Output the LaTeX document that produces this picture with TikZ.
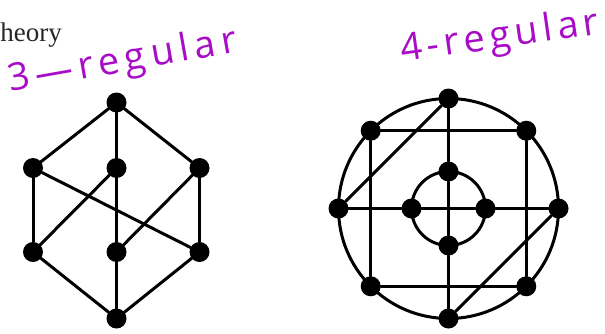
\documentclass[tikz,border=0pt]{standalone}
\usepackage{fontspec}
\usetikzlibrary{calc}
\setmainfont{Liberation Serif}
\newfontfamily\handA[LetterSpace=15]{Open Sans}
\newfontfamily\handB[LetterSpace=13]{Open Sans}
\definecolor{ink}{RGB}{168,12,198}
\begin{document}
\begin{tikzpicture}[x=1pt,y=-1pt,
  dot/.style={circle,fill=black,inner sep=0pt,minimum size=20pt},
  edge/.style={line width=3pt,line cap=round},
  note/.style={text=ink,inner sep=0pt}]
\useasboundingbox (0,0) rectangle (605,333);
% title fragment
\node[anchor=base east,inner sep=0pt,font=\fontsize{27}{27}\selectfont,text=black!85] (title) at (62,41) {heory};
% handwritten labels
\node[note,anchor=base west,rotate=10,font=\handA\fontsize{38}{38}\selectfont] (l3) at (10,92) {3—regular};
\node[note,anchor=base west,rotate=8,font=\handB\fontsize{38}{38}\selectfont] (l4) at (402,62) {4-regular};
% left graph (3-regular)
\node[dot] (t) at (116.5,102.5) {};
\node[dot] (lm) at (33,168) {};
\node[dot] (c) at (116.5,168) {};
\node[dot] (rm) at (199.5,168) {};
\node[dot] (ll) at (33,252) {};
\node[dot] (cl) at (116.5,252) {};
\node[dot] (rl) at (199.5,252) {};
\node[dot] (b) at (116.5,318.5) {};
\draw[edge] (t) -- (lm);
\draw[edge] (t) -- (rm);
\draw[edge] (t) -- (c);
\draw[edge] (c) -- (cl);
\draw[edge] (cl) -- (b);
\draw[edge] (lm) -- (ll);
\draw[edge] (rm) -- (rl);
\draw[edge] (ll) -- (b);
\draw[edge] (rl) -- (b);
\draw[edge] (lm) -- (rl);
\draw[edge] (c) -- (ll);
\draw[edge] (rm) -- (cl);
% right graph (4-regular)
\coordinate (o) at (448.5,208.5);
\draw[edge] (o) circle[radius=110pt];
\draw[edge] (o) circle[radius=37pt];
\node[dot] (rt) at ($(o)+(90:110pt)$) {};
\node[dot] (rul) at ($(o)+(135:110pt)$) {};
\node[dot] (rur) at ($(o)+(45:110pt)$) {};
\node[dot] (rl0) at ($(o)+(180:110pt)$) {};
\node[dot] (rr) at ($(o)+(0:110pt)$) {};
\node[dot] (rll) at ($(o)+(225:110pt)$) {};
\node[dot] (rlr) at ($(o)+(315:110pt)$) {};
\node[dot] (rb) at ($(o)+(270:110pt)$) {};
\node[dot] (it) at ($(o)+(90:37pt)$) {};
\node[dot] (il) at ($(o)+(180:37pt)$) {};
\node[dot] (ir) at ($(o)+(0:37pt)$) {};
\node[dot] (ib) at ($(o)+(270:37pt)$) {};
\draw[edge] (rul) -- (rur);
\draw[edge] (rur) -- (rlr);
\draw[edge] (rlr) -- (rll);
\draw[edge] (rll) -- (rul);
\draw[edge] (rl0) -- (il);
\draw[edge] (il) -- (ir);
\draw[edge] (ir) -- (rr);
\draw[edge] (rt) -- (it);
\draw[edge] (it) -- (ib);
\draw[edge] (ib) -- (rb);
\draw[edge] (rt) -- (rl0);
\draw[edge] (rr) -- (rb);
\end{tikzpicture}
\end{document}
